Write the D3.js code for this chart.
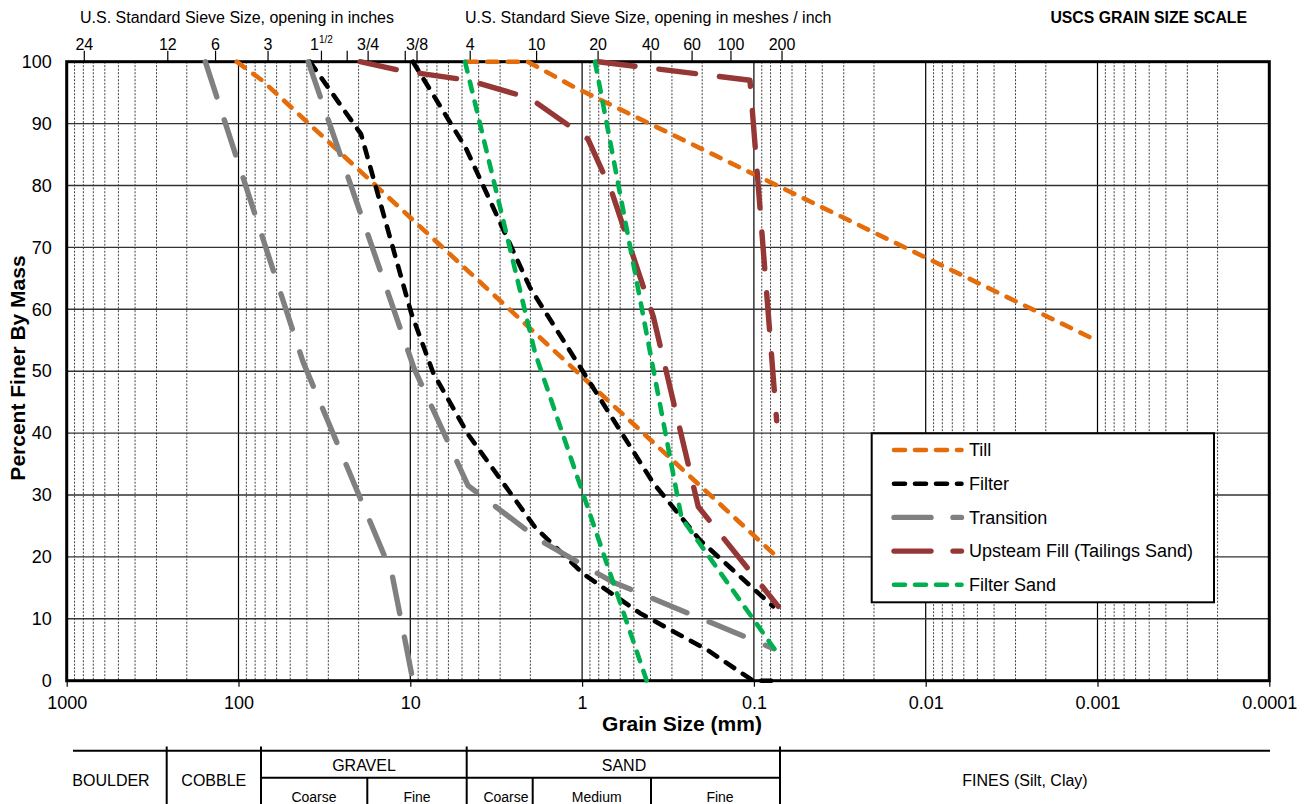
<!DOCTYPE html>
<html><head><meta charset="utf-8">
<script src="https://cdn.jsdelivr.net/npm/d3@7"></script>
<style>
body{margin:0;background:#fff;}
text{font-family:"Liberation Sans",Arial,Helvetica,sans-serif;fill:#000;}
</style>
</head><body>
<svg id="chart" width="1306" height="804"></svg>
<script>
// ---------- DATA ----------
const xTickValues = [1000, 100, 10, 1, 0.1, 0.01, 0.001, 0.0001];
const xTickLabels = ["1000", "100", "10", "1", "0.1", "0.01", "0.001", "0.0001"];
const yTickValues = [0, 10, 20, 30, 40, 50, 60, 70, 80, 90, 100];

const sieveLabels = ["24", "12", "6", "3", "1", "", "3/4", "", "3/8", "4", "10", "20", "40", "60", "100", "200"];
const sieveMM = [790, 258, 136, 67.3, 32.9, 23.3, 17.6, 10.7, 9.14, 4.48, 1.84, 0.807, 0.398, 0.229, 0.136, 0.0686];

const seriesNames = ["Till", "Filter", "Transition", "Upsteam Fill (Tailings Sand)", "Filter Sand"];
const seriesColors = ["#E46C0A", "#000000", "#808080", "#953735", "#00B050"];

// each material: coarse bound and fine bound (grain size mm, percent finer)
const tillCoarseMM = [102.4, 73, 0.0754];
const tillCoarsePct = [100, 97, 20.3];
const tillFineMM = [4.69, 2.07, 1.13, 0.00111];
const tillFinePct = [100, 100, 96, 55.5];

const filterCoarseMM = [38.4, 19.36, 9.9, 7.35, 4.61, 1.88, 0.988, 0.46, 0.1875, 0.1012, 0.0774];
const filterCoarsePct = [100, 88.3, 59.5, 49.7, 39.8, 24.8, 17.3, 10.9, 5, 0, 0];
const filterFineMM = [9.65, 4.74, 2.01, 0.3867, 0.206, 0.0774];
const filterFinePct = [100, 86, 63.5, 32, 22.7, 12];

const transCoarseMM = [156, 42.1, 12.8, 9.65];
const transCoarsePct = [100, 51.5, 17.3, 0];
const transFineMM = [39.3, 9.52, 4.61, 1.76, 0.67, 0.077];
const transFinePct = [100, 50.5, 31.5, 22.7, 16, 5.2];

const fillCoarseMM = [19.6, 11.03, 4.61, 2.01, 0.924, 0.673, 0.385, 0.2107, 0.0721];
const fillCoarsePct = [100, 98.5, 97, 94.1, 87.5, 79, 58.8, 28.1, 12];
const fillFineMM = [0.805, 0.1054, 0.0737];
const fillFinePct = [100, 97, 42];

const sandCoarseMM = [4.8, 1.88, 0.4207];
const sandCoarsePct = [100, 53, 0];
const sandFineMM = [0.841, 0.2638, 0.0754];
const sandFinePct = [100, 26.3, 5];

const tableTop = ["BOULDER", "COBBLE", "GRAVEL", "SAND", "FINES (Silt, Clay)"];
const tableSub = ["Coarse", "Fine", "Coarse", "Medium", "Fine"];

// ---------- LAYOUT ----------
const L = 66.7, R = 1269.3, T = 61.7, B = 680.7;
const svg = d3.select("#chart");
const x = d3.scaleLog().domain([1000, 0.0001]).range([L, R]);
const y = d3.scaleLinear().domain([0, 100]).range([B, T]);

const zip = (a, b) => a.map((v, i) => [v, b[i]]);
const seriesData = [
  {name: 0, lines: [zip(tillCoarseMM, tillCoarsePct), zip(tillFineMM, tillFinePct)], dash: "short"},
  {name: 1, lines: [zip(filterCoarseMM, filterCoarsePct), zip(filterFineMM, filterFinePct)], dash: "short"},
  {name: 2, lines: [zip(transCoarseMM, transCoarsePct), zip(transFineMM, transFinePct)], dash: "long"},
  {name: 3, lines: [zip(fillCoarseMM, fillCoarsePct), zip(fillFineMM, fillFinePct)], dash: "long"},
  {name: 4, lines: [zip(sandCoarseMM, sandCoarsePct), zip(sandFineMM, sandFinePct)], dash: "short"}
];
const dashStyle = {
  short: {arr: "10,10.5", w: 4.6},
  long: {arr: "37,24", w: 5.4}
};

// ---------- GRID ----------
const grid = svg.append("g");
const minors = [];
for (let e = 2; e >= -4; e--) for (let k = 2; k <= 9; k++) minors.push(k * Math.pow(10, e));
grid.selectAll("line.minor").data(minors).enter().append("line")
  .attr("x1", d => x(d)).attr("x2", d => x(d)).attr("y1", T).attr("y2", B)
  .attr("stroke", "#444").attr("stroke-width", 1).attr("stroke-dasharray", "2,1.5");
grid.selectAll("line.major").data(xTickValues.slice(1, -1)).enter().append("line")
  .attr("x1", d => x(d)).attr("x2", d => x(d)).attr("y1", T).attr("y2", B)
  .attr("stroke", "#000").attr("stroke-width", 1.2);
grid.selectAll("line.h").data(yTickValues.slice(1, -1)).enter().append("line")
  .attr("x1", L).attr("x2", R).attr("y1", d => y(d)).attr("y2", d => y(d))
  .attr("stroke", "#333").attr("stroke-width", 1.4);

// ---------- AXES ----------
const xAxis = svg.append("g").attr("transform", `translate(0,${B})`)
  .call(d3.axisBottom(x).tickValues(xTickValues).tickSize(6).tickPadding(10)
    .tickFormat((d, i) => xTickLabels[i]));
xAxis.select(".domain").remove();
xAxis.selectAll("line").attr("stroke", "#000").attr("stroke-width", 1.2);
xAxis.selectAll("text").attr("font-size", 18).attr("font-family", "Liberation Sans, Arial, sans-serif");

const yAxis = svg.append("g").attr("transform", `translate(${L},0)`)
  .call(d3.axisLeft(y).tickValues(yTickValues).tickSize(0).tickPadding(15));
yAxis.select(".domain").remove();
yAxis.selectAll("text").attr("font-size", 18).attr("font-family", "Liberation Sans, Arial, sans-serif");

// top sieve axis
const topG = svg.append("g");
topG.selectAll("line").data(sieveMM).enter().append("line")
  .attr("x1", d => x(d)).attr("x2", d => x(d)).attr("y1", T - 11).attr("y2", T)
  .attr("stroke", "#000").attr("stroke-width", 1.2);
const tl = topG.selectAll("text").data(sieveMM).enter().append("text")
  .attr("x", d => x(d)).attr("y", 50).attr("text-anchor", "middle").attr("font-size", 16);
tl.each(function(d, i) {
  const t = d3.select(this);
  t.append("tspan").text(sieveLabels[i]);
  if (sieveLabels[i] === "1") {
    t.append("tspan").attr("font-size", 10).attr("dy", -7).text("1/2");
  }
});

// plot frame
svg.append("rect").attr("x", L).attr("y", T).attr("width", R - L).attr("height", B - T)
  .attr("fill", "none").attr("stroke", "#000").attr("stroke-width", 3);

// ---------- SERIES ----------
const line = d3.line().x(d => x(d[0])).y(d => y(d[1]));
const sg = svg.append("g");
seriesData.forEach(s => {
  s.lines.forEach(pts => {
    sg.append("path").attr("d", line(pts)).attr("fill", "none")
      .attr("stroke", seriesColors[s.name]).attr("stroke-width", dashStyle[s.dash].w)
      .attr("stroke-dasharray", dashStyle[s.dash].arr)
      .attr("stroke-linecap", "round").attr("stroke-linejoin", "round");
  });
});

// ---------- LEGEND ----------
const lg = svg.append("g");
lg.append("rect").attr("x", 871.7).attr("y", 433.3).attr("width", 342.3).attr("height", 169)
  .attr("fill", "#fff").attr("stroke", "#000").attr("stroke-width", 2);
seriesData.forEach((s, i) => {
  const yy = 450 + i * 33.7;
  lg.append("line").attr("x1", 894).attr("x2", 961.5).attr("y1", yy).attr("y2", yy)
    .attr("stroke", seriesColors[s.name]).attr("stroke-width", dashStyle[s.dash].w)
    .attr("stroke-dasharray", s.dash === "short" ? "11,10" : "37,22")
    .attr("stroke-linecap", "round");
  lg.append("text").attr("x", 969).attr("y", yy).attr("dy", "0.35em")
    .attr("font-size", 18).text(seriesNames[s.name]);
});

// ---------- TITLES ----------
svg.append("text").attr("x", 80).attr("y", 23).attr("font-size", 16)
  .text("U.S. Standard Sieve Size, opening in inches");
svg.append("text").attr("x", 465).attr("y", 23).attr("font-size", 16)
  .text("U.S. Standard Sieve Size, opening in meshes / inch");
svg.append("text").attr("x", 1247).attr("y", 23).attr("font-size", 15.8).attr("font-weight", "bold")
  .attr("text-anchor", "end").text("USCS GRAIN SIZE SCALE");
svg.append("text").attr("x", 682).attr("y", 731).attr("font-size", 21).attr("font-weight", "bold")
  .attr("text-anchor", "middle").text("Grain Size (mm)");
svg.append("text").attr("transform", "translate(25,368) rotate(-90)").attr("font-size", 21)
  .attr("font-weight", "bold").attr("text-anchor", "middle").text("Percent Finer By Mass");

// ---------- USCS TABLE ----------
const tb = svg.append("g").attr("stroke", "#000").attr("stroke-width", 2);
tb.append("line").attr("x1", 73).attr("x2", 1270).attr("y1", 750.7).attr("y2", 750.7);
[166.7, 261, 466.7, 780].forEach(v => tb.append("line").attr("x1", v).attr("x2", v).attr("y1", 746.5).attr("y2", 804));
tb.append("line").attr("x1", 261).attr("x2", 780).attr("y1", 777.7).attr("y2", 777.7);
[367.3, 532.7, 651].forEach(v => tb.append("line").attr("x1", v).attr("x2", v).attr("y1", 777.7).attr("y2", 804));
const tt = svg.append("g").attr("text-anchor", "middle");
const topPos = [[111, 780], [213.8, 780], [364, 765], [624, 765], [1025, 780]];
tableTop.forEach((t, i) => tt.append("text").attr("x", topPos[i][0]).attr("y", topPos[i][1])
  .attr("dy", "0.35em").attr("font-size", 16).text(t));
const subPos = [314, 417, 506, 596.7, 720];
tableSub.forEach((t, i) => tt.append("text").attr("x", subPos[i]).attr("y", 797)
  .attr("dy", "0.35em").attr("font-size", 14).text(t));
</script>
</body></html>
